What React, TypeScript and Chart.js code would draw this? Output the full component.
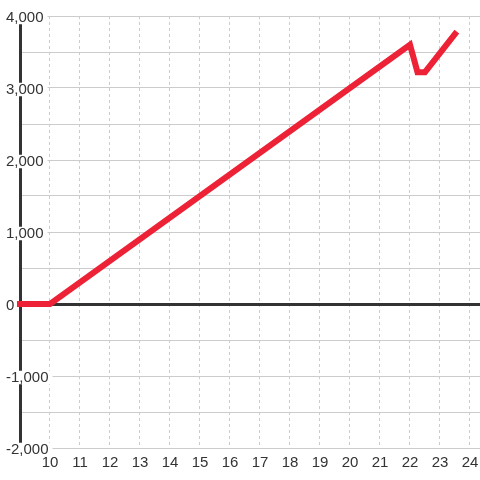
import React, { useEffect, useRef } from "react";
import { Chart, registerables } from "chart.js";

Chart.register(...registerables);

const xValues = [9, 10, 22, 22.25, 22.5, 23.5];
const yValues = [0, 0, 3600, 3220, 3220, 3750];
const xTickValues = [10, 11, 12, 13, 14, 15, 16, 17, 18, 19, 20, 21, 22, 23, 24];
const yTickValues = [-2000, -1500, -1000, -500, 0, 500, 1000, 1500, 2000, 2500, 3000, 3500, 4000];
const yLabelValues = [-2000, -1000, 0, 1000, 2000, 3000, 4000];

const FONT = "'Liberation Sans', Arial, sans-serif";

export default function App() {
  const ref = useRef<HTMLCanvasElement>(null);
  useEffect(() => {
    if (!ref.current) return;
    const chart = new Chart(ref.current, {
      type: "line",
      data: {
        datasets: [
          {
            data: xValues.map((x, i) => ({ x, y: yValues[i] })),
            borderColor: "#ED2236",
            backgroundColor: "#ED2236",
            borderWidth: 6,
            borderJoinStyle: "miter",
            borderCapStyle: "square",
            pointRadius: 0,
            tension: 0,
            fill: false,
            clip: false as any,
          },
        ],
      },
      options: {
        animation: false,
        responsive: false,
        layout: { padding: { top: 16, bottom: 8, left: 0, right: 0 } },
        plugins: { legend: { display: false }, tooltip: { enabled: false } },
        scales: {
          x: {
            type: "linear",
            min: 9,
            max: 24.334,
            afterBuildTicks: (scale: any) => {
              scale.ticks = xTickValues.map((v) => ({ value: v }));
            },
            afterFit: (scale: any) => {
              scale.height = 24;
              scale.paddingLeft = 0;
              scale.paddingRight = 0;
            },
            grid: { color: "#cccccc", lineWidth: 1, drawTicks: false },
            border: { display: false, dash: [3, 3] },
            ticks: {
              color: "#333333",
              font: { family: FONT, size: 15 },
              padding: 6,
              maxRotation: 0,
              autoSkip: false,
              callback: (v: any) => String(v),
            },
          },
          y: {
            type: "linear",
            min: -2000,
            max: 4000,
            afterBuildTicks: (scale: any) => {
              scale.ticks = yTickValues.map((v) => ({ value: v }));
            },
            afterFit: (scale: any) => {
              scale.width = 20;
              scale.paddingTop = 0;
              scale.paddingBottom = 0;
            },
            grid: {
              drawTicks: false,
              color: (ctx: any) => (ctx.tick && ctx.tick.value === 0 ? "#333333" : "#cccccc"),
              lineWidth: (ctx: any) => (ctx.tick && ctx.tick.value === 0 ? 3 : 1),
            },
            border: { display: true, color: "#333333", width: 3 },
            ticks: {
              color: "#333333",
              font: { family: FONT, size: 15, lineHeight: 0.9 },
              mirror: true,
              crossAlign: "near",
              padding: -14,
              labelOffset: 1.5,
              autoSkip: false,
              showLabelBackdrop: (ctx: any) => yLabelValues.includes(ctx.tick.value),
              backdropColor: "#ffffff",
              backdropPadding: { left: 3, right: 4, top: 0, bottom: 0 },
              callback: (v: any) => (yLabelValues.includes(Number(v)) ? Number(v).toLocaleString("en-US") : ""),
            } as any,
          },
        },
      },
    });
    return () => chart.destroy();
  }, []);
  return (
    <div style={{ position: "absolute", left: 0, top: 0, width: 480, height: 480, background: "#ffffff" }}>
      <canvas ref={ref} width={480} height={480} style={{ display: "block" }} />
    </div>
  );
}
